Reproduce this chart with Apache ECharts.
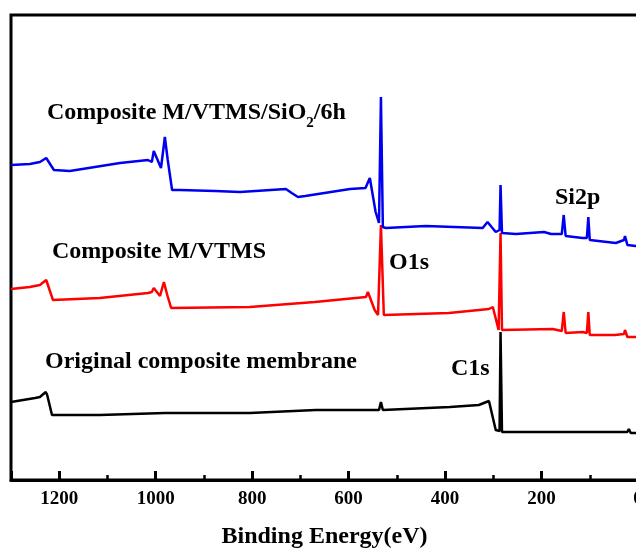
<!DOCTYPE html>
<html>
<head>
<meta charset="utf-8">
<script src="https://cdn.jsdelivr.net/npm/echarts@6/dist/echarts.min.js"></script>
<style>
  html, body { margin: 0; padding: 0; background: #fff; }
  #chart { width: 636px; height: 550px; }
</style>
</head>
<body>
<div id="chart"></div>
<script>
// --- data (binding energy eV / intensity a.u.) ---
const blueBE  = [1300, 1261, 1240, 1227, 1211, 1178, 1074, 1016, 1008, 1004, 989, 981, 975, 966, 950, 877, 825, 730, 726, 718, 705, 690, 597, 565, 556, 544, 537, 533, 529, 523, 440, 322, 312, 309, 295, 287, 285, 282, 253, 195, 191, 180, 158, 154, 150, 115, 106, 103, 100, 46, 29, 27, 22, 5, 0];
const blueInt = [315, 316, 318, 322, 310, 309, 317, 320, 318, 329, 312, 343, 320, 290, 290, 289, 288, 291, 292, 287, 283, 284, 291, 292, 302, 268, 257, 383, 253, 252, 254, 252, 258, 260, 248, 250, 295, 247, 246, 248, 249, 246, 246, 265, 244, 242, 242, 263, 240, 237, 240, 244, 235, 234, 234];

const redBE  = [1300, 1261, 1240, 1227, 1213, 1116, 1016, 1008, 1004, 991, 983, 976, 968, 805, 670, 564, 560, 546, 539, 533, 527, 392, 309, 301, 289, 285, 282, 177, 158, 154, 150, 115, 106, 103, 100, 48, 29, 27, 22, 0];
const redInt = [191, 193, 195, 200, 180, 182, 187, 188, 192, 184, 198, 185, 172, 173, 178, 183, 188, 170, 165, 255, 165, 167, 171, 173, 150, 247, 150, 151, 149, 168, 147, 148, 147, 168, 145, 145, 146, 150, 143, 143];

const blackBE  = [1300, 1250, 1240, 1236, 1228, 1225, 1215, 1116, 981, 805, 668, 537, 533, 529, 390, 330, 309, 295, 287, 285, 282, 79, 22, 19, 15, 0];
const blackInt = [78, 82, 83, 81, 88, 85, 65, 65, 67, 67, 70, 70, 78, 70, 73, 75, 79, 50, 49, 148, 48, 48, 48, 51, 47, 47];

const majorTicks = [0, 200, 400, 600, 800, 1000, 1200];

const FONT = '"Liberation Serif", "Times New Roman", serif';

function pairs(xs, ys) {
    return xs.map((x, i) => [x, ys[i]]);
}

const chart = echarts.init(document.getElementById('chart'));

chart.setOption({
    animation: false,
    grid: {
        left: 11, right: -2, top: 15, bottom: 70,
        outerBoundsMode: 'none', containLabel: false,
        show: true, borderColor: '#000', borderWidth: 3
    },
    xAxis: [{
        type: 'value', inverse: true, min: 0, max: 1300, interval: 200,
        name: 'Binding Energy(eV)', nameLocation: 'middle', nameGap: 45,
        nameTextStyle: { fontFamily: FONT, fontWeight: 'bold', fontSize: 24, color: '#000' },
        axisLine: { show: true, lineStyle: { color: '#000', width: 3 } },
        axisTick: { show: true, inside: true, length: 9, lineStyle: { color: '#000', width: 3 } },
        axisLabel: {
            margin: 10, fontFamily: FONT, fontWeight: 'bold', fontSize: 19, color: '#000',
            formatter: v => majorTicks.includes(v) ? String(v) : ''
        },
        splitLine: { show: false }
    }, {
        // minor ticks every 100 eV
        type: 'value', inverse: true, min: 0, max: 1300, interval: 100, position: 'bottom',
        axisLine: { show: false },
        axisTick: { show: true, inside: true, length: 5, lineStyle: { color: '#000', width: 2.5 } },
        axisLabel: { show: false },
        splitLine: { show: false }
    }],
    yAxis: {
        type: 'value', min: 0, max: 465,
        axisLine: { show: false }, axisTick: { show: false },
        axisLabel: { show: false }, splitLine: { show: false }
    },
    series: [
        { type: 'line', data: pairs(blackBE, blackInt), showSymbol: false, lineStyle: { color: '#000', width: 2.5 }, z: 2 },
        { type: 'line', data: pairs(redBE, redInt), showSymbol: false, lineStyle: { color: '#ff0000', width: 2.5 }, z: 3 },
        { type: 'line', data: pairs(blueBE, blueInt), showSymbol: false, lineStyle: { color: '#0000f0', width: 2.5 }, z: 4 }
    ],
    graphic: [
        {
            type: 'text', x: 47, y: 113,
            style: {
                text: '{a|Composite M/VTMS/SiO}{s|2}{a|/6h}',
                verticalAlign: 'middle',
                rich: {
                    a: { fontFamily: FONT, fontWeight: 'bold', fontSize: 24, fill: '#000', lineHeight: 26 },
                    s: { fontFamily: FONT, fontWeight: 'bold', fontSize: 15, fill: '#000', lineHeight: 26, verticalAlign: 'bottom', padding: [0, 0, -5, 0] }
                }
            }
        },
        { type: 'text', x: 52, y: 252, style: { text: 'Composite M/VTMS', fontFamily: FONT, fontWeight: 'bold', fontSize: 24, fill: '#000', verticalAlign: 'middle' } },
        { type: 'text', x: 45, y: 362, style: { text: 'Original composite membrane', fontFamily: FONT, fontWeight: 'bold', fontSize: 24, fill: '#000', verticalAlign: 'middle' } },
        { type: 'text', x: 389, y: 263, style: { text: 'O1s', fontFamily: FONT, fontWeight: 'bold', fontSize: 24, fill: '#000', verticalAlign: 'middle' } },
        { type: 'text', x: 451, y: 369, style: { text: 'C1s', fontFamily: FONT, fontWeight: 'bold', fontSize: 24, fill: '#000', verticalAlign: 'middle' } },
        { type: 'text', x: 555, y: 198, style: { text: 'Si2p', fontFamily: FONT, fontWeight: 'bold', fontSize: 24, fill: '#000', verticalAlign: 'middle' } }
    ]
});
</script>
</body>
</html>
